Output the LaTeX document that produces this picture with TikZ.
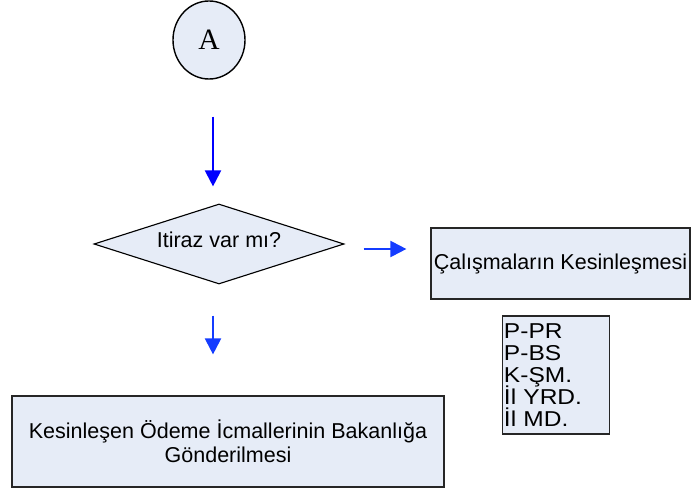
\documentclass[tikz,border=0pt]{standalone}
\usepackage{fontspec}
\setmainfont{Liberation Sans}
\newfontfamily\serifA{Liberation Serif}
\newfontfamily\widesans[FakeStretch=1.14]{Liberation Sans}
\usetikzlibrary{shapes.geometric,arrows.meta,positioning}
\definecolor{boxfill}{RGB}{230,236,247}
\definecolor{arrblue}{RGB}{20,60,255}

\begin{document}
\begin{tikzpicture}[x=0.025cm,y=-0.025cm,
	box/.style={draw=black!85,fill=boxfill,line width=0.8pt,inner sep=0pt,font=\fontsize{15.3}{17.2}\selectfont},
	flow/.style={->,>={Triangle[width=0.4cm,length=0.4cm]},line width=1.5pt,arrblue}]
	\useasboundingbox (0,0) rectangle (692,492);

	\node[draw,ellipse,fill=boxfill,line width=1pt,minimum width=1.8cm,minimum height=1.95cm,inner sep=0pt,font=\serifA\fontsize{21}{21}\selectfont](A) at (209,40){A};

	\node[box,diamond,aspect=3.125,draw=black,minimum width=6.25cm,minimum height=2cm](D) at (219,244){\raisebox{0.2cm}{Itiraz var mı?}};

	\node[box,minimum width=6.475cm,minimum height=1.775cm](C) at (560.5,263.5){Çalışmaların Kesinleşmesi};

	\node[box,align=left,text width=2.6cm,minimum height=2.95cm,inner xsep=0.03cm,font=\widesans\fontsize{15.3}{15.65}\selectfont](S) at (556,375){\lineskiplimit=-20pt\relax P-PR\\P-BS\\K-ŞM.\\İl YRD.\\İl MD.};

	\node[box,align=center,minimum width=10.8cm,minimum height=2.275cm](B) at (228,441.5){Kesinleşen Ödeme İcmallerinin Bakanlığa\\Gönderilmesi};

	\coordinate (ax) at (213,0);
	\coordinate (ay) at (0,249);

	\path [flow]
		(A.south -| ax) edge[blue,shorten <=0.925cm,shorten >=0.425cm] (D.north -| ax)
		(D.east |- ay) edge[shorten <=0.475cm,shorten >=0.6cm] (C.west |- ay)
		(D.south -| ax) edge[shorten <=0.775cm,shorten >=1.025cm] (B.north -| ax);
\end{tikzpicture}
\end{document}
